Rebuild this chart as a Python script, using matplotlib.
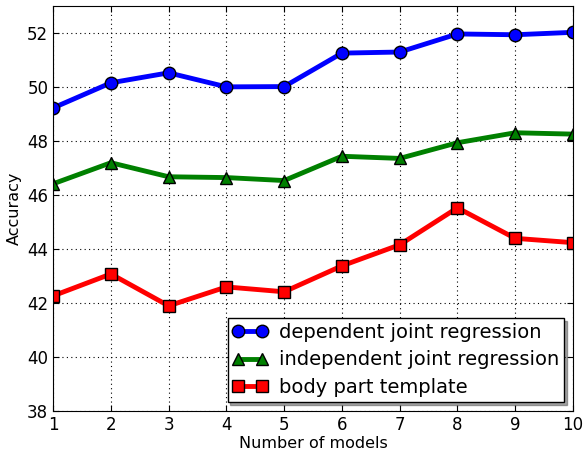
import matplotlib
matplotlib.use("Agg")
import matplotlib.pyplot as plt

n_models = [1, 2, 3, 4, 5, 6, 7, 8, 9, 10]
dependent = [49.22, 50.15, 50.52, 50.0, 50.01, 51.25, 51.29, 51.96, 51.93, 52.02]
independent = [46.41, 47.19, 46.67, 46.64, 46.53, 47.43, 47.35, 47.93, 48.30, 48.25]
body_part = [42.26, 43.07, 41.89, 42.59, 42.41, 43.37, 44.15, 45.52, 44.39, 44.23]
yticks = [38, 40, 42, 44, 46, 48, 50, 52]

fig = plt.figure(figsize=(5.84, 4.51), dpi=100)
ax = fig.add_axes([0.091, 0.089, 0.890, 0.898])

ax.plot(n_models, dependent, "-o", color="blue", lw=3.5, ms=9, mec="black", mew=1,
        label="dependent joint regression")
ax.plot(n_models, independent, "-^", color="green", lw=3.5, ms=9, mec="black", mew=1,
        label="independent joint regression")
ax.plot(n_models, body_part, "-s", color="red", lw=3.5, ms=9, mec="black", mew=1,
        label="body part template")

ax.set_xlim(1, 10)
ax.set_ylim(38, 53)
ax.set_xticks(n_models)
ax.set_yticks(yticks)
ax.grid(True, color="black", linestyle=(0, (1, 3)), linewidth=0.8)
ax.tick_params(direction="in", top=True, right=True, labelsize=12, length=4)
ax.set_xlabel("Number of models", fontsize=11.5, labelpad=2)
ax.set_ylabel("Accuracy", fontsize=11.5)

leg = ax.legend(loc="lower right", fontsize=14, shadow=True, fancybox=False,
                framealpha=1, edgecolor="black", borderpad=0.25, handlelength=1.8,
                handletextpad=0.6, labelspacing=0.45, numpoints=2,
                borderaxespad=0.45)
leg.get_frame().set_linewidth(1)

fig.savefig("out.png", dpi=100)
